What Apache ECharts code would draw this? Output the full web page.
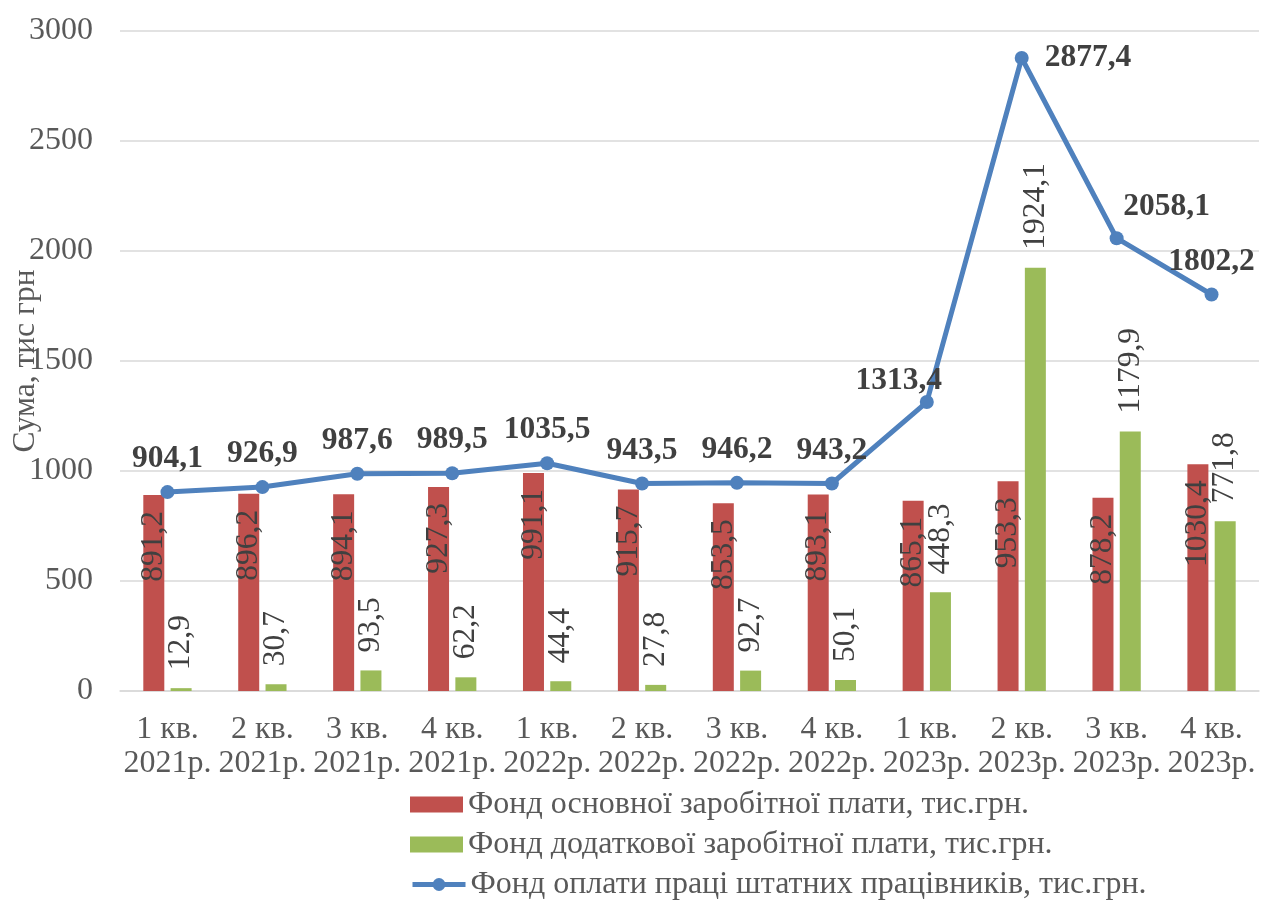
<!DOCTYPE html>
<html>
<head>
<meta charset="utf-8">
<script src="https://cdn.jsdelivr.net/npm/echarts@6/dist/echarts.min.js"></script>
<style>
html,body{margin:0;padding:0;background:#fff;}
#chart{width:1261px;height:902px;}
</style>
</head>
<body>
<div id="chart"></div>
<script>
const categories = ["1 кв.\n2021р.","2 кв.\n2021р.","3 кв.\n2021р.","4 кв.\n2021р.","1 кв.\n2022р.","2 кв.\n2022р.","3 кв.\n2022р.","4 кв.\n2022р.","1 кв.\n2023р.","2 кв.\n2023р.","3 кв.\n2023р.","4 кв.\n2023р."];
const basicFund = [891.2, 896.2, 894.1, 927.3, 991.1, 915.7, 853.5, 893.1, 865.1, 953.3, 878.2, 1030.4];
const extraFund = [12.9, 30.7, 93.5, 62.2, 44.4, 27.8, 92.7, 50.1, 448.3, 1924.1, 1179.9, 771.8];
const totalFund = [904.1, 926.9, 987.6, 989.5, 1035.5, 943.5, 946.2, 943.2, 1313.4, 2877.4, 2058.1, 1802.2];
const seriesNames = ["Фонд основної заробітної плати, тис.грн.","Фонд додаткової заробітної плати, тис.грн.","Фонд оплати праці штатних працівників, тис.грн."];
const yTicks = {min: 0, max: 3000, interval: 500};
const yAxisName = "Сума, тис грн";

const FONT = "'Liberation Serif','Times New Roman',serif";
const fmt = v => String(v).replace('.', ',');

const lineData = totalFund.map((v, i) => {
  const d = {value: v};
  if (i === 8) d.label = {offset: [-28, 12]};
  if (i === 9) d.label = {position: 'right', distance: 16, offset: [0, 0]};
  if (i === 10) d.label = {offset: [50, 2]};
  return d;
});

const legendBase = {
  orient: 'horizontal',
  left: 410,
  itemWidth: 53,
  itemHeight: 16,
  padding: 0,
  textStyle: {fontFamily: FONT, fontSize: 32, lineHeight: 33, color: '#595959'}
};

const chart = echarts.init(document.getElementById('chart'), null, {renderer: 'canvas'});
chart.setOption({
  animation: false,
  backgroundColor: '#ffffff',
  textStyle: {fontFamily: FONT},
  grid: {left: 120, right: 2, top: 31, bottom: 211, containLabel: false, outerBoundsMode: 'none'},
  legend: [
    Object.assign({}, legendBase, {top: 788, data: [{name: seriesNames[0], icon: 'rect'}]}),
    Object.assign({}, legendBase, {top: 828, data: [{name: seriesNames[1], icon: 'rect'}]}),
    Object.assign({}, legendBase, {top: 868, lineStyle: {width: 5}, data: [{name: seriesNames[2]}]})
  ],
  xAxis: {
    type: 'category',
    data: categories,
    axisLine: {show: true, lineStyle: {color: '#D9D9D9', width: 1.5}},
    axisTick: {show: false},
    axisLabel: {fontFamily: FONT, fontSize: 32, color: '#595959', margin: 22, lineHeight: 34, interval: 0}
  },
  yAxis: {
    type: 'value',
    min: yTicks.min, max: yTicks.max, interval: yTicks.interval,
    name: yAxisName,
    nameLocation: 'middle',
    nameGap: 78,
    nameMoveOverlap: false,
    nameTextStyle: {fontFamily: FONT, fontSize: 31.5, color: '#595959'},
    axisLine: {show: false},
    axisTick: {show: false},
    splitLine: {lineStyle: {color: '#D9D9D9', width: 1.5}},
    axisLabel: {fontFamily: FONT, fontSize: 32, color: '#595959', margin: 27, formatter: v => String(v)}
  },
  series: [
    {
      name: seriesNames[0],
      type: 'bar',
      data: basicFund,
      barWidth: 21,
      barGap: '30%',
      itemStyle: {color: '#C0504D'},
      label: {
        show: true, position: 'insideTop', rotate: 90, distance: 16,
        align: 'right', verticalAlign: 'middle',
        fontFamily: FONT, fontSize: 31.5, color: '#404040',
        formatter: p => fmt(p.value)
      },
      z: 2
    },
    {
      name: seriesNames[1],
      type: 'bar',
      data: extraFund,
      barWidth: 21,
      barGap: '30%',
      itemStyle: {color: '#9BBB59'},
      label: {
        show: true, position: 'top', rotate: 90, distance: 18,
        align: 'left', verticalAlign: 'middle',
        fontFamily: FONT, fontSize: 31.5, color: '#404040',
        formatter: p => fmt(p.value)
      },
      z: 2
    },
    {
      name: seriesNames[2],
      type: 'line',
      data: lineData,
      symbol: 'circle',
      symbolSize: 14,
      itemStyle: {color: '#4F81BD'},
      lineStyle: {color: '#4F81BD', width: 5},
      label: {
        show: true, position: 'top', distance: 10,
        fontFamily: FONT, fontSize: 31.5, fontWeight: 'bold', color: '#404040',
        formatter: p => fmt(p.value)
      },
      z: 5
    }
  ]
});
</script>
</body>
</html>
